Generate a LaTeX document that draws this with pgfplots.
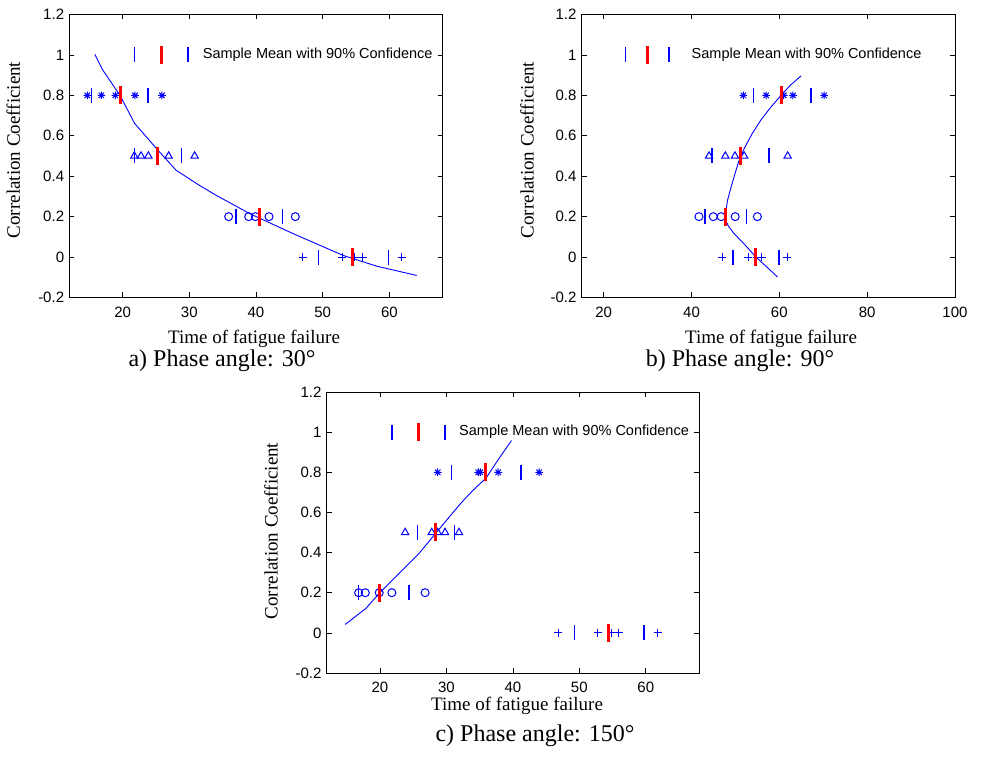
\documentclass[border=0pt]{standalone}
\usepackage{fontspec}
\setmainfont{Liberation Serif}
\newfontfamily\arial{Liberation Sans}
\usepackage{pgfplots}
\pgfplotsset{compat=1.18}

\definecolor{mblue}{RGB}{0,0,255}
\newcommand\tickfont{\arial\fontsize{15}{18}\selectfont}
\newcommand\legfont{\arial\fontsize{14.5}{17}\selectfont}
\newcommand\labfont{\fontsize{19}{22}\selectfont}
\newcommand\capfont{\fontsize{24}{28}\selectfont}

% matlab style '*' marker (plus and cross together)
\pgfdeclareplotmark{ast8}{%
  \pgfpathmoveto{\pgfqpoint{-\pgfplotmarksize}{0pt}}\pgfpathlineto{\pgfqpoint{\pgfplotmarksize}{0pt}}%
  \pgfpathmoveto{\pgfqpoint{0pt}{-\pgfplotmarksize}}\pgfpathlineto{\pgfqpoint{0pt}{\pgfplotmarksize}}%
  \pgfpathmoveto{\pgfqpoint{-.707\pgfplotmarksize}{-.707\pgfplotmarksize}}\pgfpathlineto{\pgfqpoint{.707\pgfplotmarksize}{.707\pgfplotmarksize}}%
  \pgfpathmoveto{\pgfqpoint{-.707\pgfplotmarksize}{.707\pgfplotmarksize}}\pgfpathlineto{\pgfqpoint{.707\pgfplotmarksize}{-.707\pgfplotmarksize}}%
  \pgfusepathqstroke}

\pgfplotsset{
  fatigue/.style={
    scale only axis,
    ymin=-0.2, ymax=1.2,
    ytick={-0.2,0,0.2,0.4,0.6,0.8,1,1.2},
    tick align=inside,
    major tick length=5pt,
    axis line style={black, line width=0.9pt},
    every tick/.style={black, line width=0.7pt},
    ticklabel style={font=\tickfont},
    /pgf/number format/assume math mode=true,
    xticklabel style={inner sep=0pt, yshift=-9pt},
    yticklabel style={inner sep=0pt, xshift=-5pt},
  },
  pts/.style={only marks, color=mblue, mark options={solid, draw=mblue, line width=1pt}},
  ci/.style={only marks, mark=|, mark size=7.5pt, color=mblue, mark options={draw=mblue, line width=1.5pt}},
  mean/.style={only marks, mark=|, mark size=9pt, color=red, mark options={draw=red, line width=3pt}},
  fit/.style={no marks, color=mblue, line width=0.9pt},
}

\begin{document}
\begin{tikzpicture}[x=1pt,y=1pt]
\useasboundingbox (0,0) rectangle (981,757);

% ---- a) 30 deg
\begin{axis}[fatigue, at={(69.3pt,459.5pt)}, anchor=south west,
  width=373.4pt, height=283pt, xmin=12, xmax=68, xtick={20,30,...,60}]
\addplot[fit] coordinates {(15.84,1.003) (17,0.926) (19.6,0.80) (21.8,0.661) (25.26,0.53)
  (28.0,0.43) (31.5,0.355) (34.0,0.306) (39.05,0.215) (45.56,0.116) (53.08,0.008)
  (58.1,-0.045) (64.1,-0.091)};
\addplot[pts, mark=ast8, mark size=3.8pt] coordinates {(14.7,0.8) (16.8,0.8) (18.9,0.8) (21.85,0.8) (25.9,0.8)};
\addplot[pts, mark=triangle, mark size=4.2pt] coordinates {(21.75,0.5) (22.76,0.5) (23.86,0.5) (26.9,0.5) (30.8,0.5)};
\addplot[pts, mark=o, mark size=4pt] coordinates {(35.9,0.2) (38.9,0.2) (39.9,0.2) (41.95,0.2) (45.9,0.2)};
\addplot[pts, mark=+, mark size=4pt] coordinates {(47.0,0) (52.9,0) (54.8,0) (56.0,0) (61.85,0)};
\addplot[ci] coordinates {(21.75,1) (29.8,1) (15.3,0.8) (23.8,0.8) (21.75,0.5) (28.8,0.5)
  (37.0,0.2) (44.0,0.2) (49.4,0) (59.9,0)};
\addplot[mean] coordinates {(25.9,1) (19.7,0.8) (25.3,0.5) (40.45,0.2) (54.5,0)};
\node[anchor=west, inner sep=0pt, font=\legfont] at (axis cs:32,1) {Sample Mean with 90\% Confidence};
\end{axis}

% ---- b) 90 deg
\begin{axis}[fatigue, at={(581.7pt,459.5pt)}, anchor=south west,
  width=373.3pt, height=283pt, xmin=15, xmax=100, xtick={20,40,...,100}]
\addplot[fit] coordinates {(64.95,0.896) (62.5,0.85) (60.4,0.80) (58,0.74) (55.8,0.678)
  (53.8,0.61) (52.0,0.537) (50.7,0.47) (49.7,0.397) (48.8,0.33) (48.2,0.28) (47.8,0.22)
  (47.8,0.18) (48.5,0.15) (49.7,0.116) (52.2,0.06) (54.67,0) (57.2,-0.05) (59.6,-0.099)};
\addplot[pts, mark=ast8, mark size=3.8pt] coordinates {(51.8,0.8) (57.0,0.8) (61.0,0.8) (63.1,0.8) (70.2,0.8)};
\addplot[pts, mark=triangle, mark size=4.2pt] coordinates {(44.0,0.5) (47.7,0.5) (49.9,0.5) (52.0,0.5) (61.9,0.5)};
\addplot[pts, mark=o, mark size=4pt] coordinates {(41.7,0.2) (44.95,0.2) (46.75,0.2) (49.95,0.2) (55.0,0.2)};
\addplot[pts, mark=+, mark size=4pt] coordinates {(47.0,0) (52.9,0) (54.8,0) (56.0,0) (61.85,0)};
\addplot[ci] coordinates {(24.95,1) (34.9,1) (54.06,0.8) (67.2,0.8) (44.7,0.5) (57.6,0.5)
  (43.05,0.2) (52.55,0.2) (49.4,0) (59.9,0)};
\addplot[mean] coordinates {(29.9,1) (60.5,0.8) (51.2,0.5) (47.75,0.2) (54.6,0)};
\node[anchor=west, inner sep=0pt, font=\legfont] at (axis cs:40,1) {Sample Mean with 90\% Confidence};
\end{axis}

% ---- c) 150 deg
\begin{axis}[fatigue, at={(326.7pt,84pt)}, anchor=south west,
  width=372.3pt, height=281pt, xmin=12, xmax=68, xtick={20,30,...,60}]
\addplot[fit] coordinates {(14.79,0.042) (17.9,0.122) (19.9,0.197) (22.9,0.296) (25.9,0.396)
  (28.4,0.496) (30.9,0.596) (32.4,0.654) (34.0,0.71) (35.94,0.77) (37.94,0.87) (39.8,0.958)};
\addplot[pts, mark=ast8, mark size=3.8pt] coordinates {(28.7,0.8) (34.8,0.8) (35.1,0.8) (37.8,0.8) (43.96,0.8)};
\addplot[pts, mark=triangle, mark size=4.2pt] coordinates {(23.8,0.5) (27.8,0.5) (28.7,0.5) (29.8,0.5) (31.9,0.5)};
\addplot[pts, mark=o, mark size=4pt] coordinates {(16.8,0.2) (17.8,0.2) (19.9,0.2) (21.8,0.2) (26.8,0.2)};
\addplot[pts, mark=+, mark size=4pt] coordinates {(46.8,0) (52.8,0) (54.8,0) (55.9,0) (61.8,0)};
\addplot[ci] coordinates {(21.8,1) (29.8,1) (30.8,0.8) (41.25,0.8) (25.66,0.5) (31.2,0.5)
  (16.8,0.2) (24.4,0.2) (49.3,0) (59.75,0)};
\addplot[mean] coordinates {(25.8,1) (35.9,0.8) (28.3,0.5) (19.9,0.2) (54.4,0)};
\node[anchor=west, inner sep=0pt, font=\legfont] at (axis cs:31.9,1) {Sample Mean with 90\% Confidence};
\end{axis}

% labels and captions
\node[rotate=90, font=\labfont] at (13.3,607) {Correlation Coefficient};
\node[rotate=90, font=\labfont] at (527,607) {Correlation Coefficient};
\node[rotate=90, font=\labfont] at (271,226) {Correlation Coefficient};
\node[anchor=base, font=\labfont, inner sep=0pt] at (254,413.5) {Time of fatigue failure};
\node[anchor=base, font=\labfont, inner sep=0pt] at (771,413.5) {Time of fatigue failure};
\node[anchor=base, font=\labfont, inner sep=0pt] at (517,47) {Time of fatigue failure};
\node[anchor=base, font=\capfont, inner sep=0pt] at (222,390) {a) Phase angle: 30°};
\node[anchor=base, font=\capfont, inner sep=0pt] at (740,390) {b) Phase angle: 90°};
\node[anchor=base, font=\capfont, inner sep=0pt] at (535,16) {c) Phase angle: 150°};
\end{tikzpicture}
\end{document}
